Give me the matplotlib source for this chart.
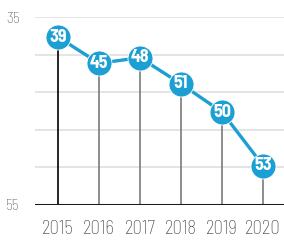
import matplotlib
matplotlib.use('Agg')
import matplotlib.pyplot as plt

years = ['2015', '2016', '2017', '2018', '2019', '2020']
labels = ['39', '45', '48', '51', '50', '53']
# vertical position of each bubble on the 35-55 scale
positions = [37.1, 39.9, 39.3, 42.1, 45.1, 50.8]
grid_levels = [35, 39, 43, 47, 51]

plt.rcParams['font.family'] = ['Barlow Semi Condensed', 'DejaVu Sans']

blue = '#1c9fd3'
x = list(range(len(years)))

fig = plt.figure(figsize=(2.84, 2.44), dpi=100)
ax = fig.add_axes([35 / 284, 39 / 244, 249 / 284, 187.7 / 244])

for g in grid_levels:
    ax.axhline(g, color='#e2e2e2', lw=1.3, zorder=0)

for i, p in enumerate(positions):
    ax.vlines(i, p, 55, color='black' if i == 0 else '#7a7a7a', lw=1.2, zorder=1)

ax.axhline(55, color='#1a1a1a', lw=2.2, zorder=2)
ax.plot(x, positions, color=blue, lw=2.4, marker='o', markersize=18,
        markerfacecolor=blue, markeredgecolor='white', markeredgewidth=0.6, zorder=3)

for i, (p, lab) in enumerate(zip(positions, labels)):
    ax.text(i, p, lab, ha='center', va='center', color='white',
            fontsize=13, fontweight='bold', zorder=4)

ax.set_ylim(55, 35)
ax.set_xlim(-0.56, 5.51)
ax.set_yticks([35, 55])
ax.set_yticklabels(['35', '55'], color='#555555', fontsize=11, fontweight='light')
ax.set_xticks(x)
ax.set_xticklabels(years, color='#3a3a3a', fontsize=13.5, fontweight='light')
ax.tick_params(length=0)
ax.tick_params(axis='x', pad=11)
ax.tick_params(axis='y', pad=11)
for s in ax.spines.values():
    s.set_visible(False)

fig.savefig('out.png', dpi=100)
